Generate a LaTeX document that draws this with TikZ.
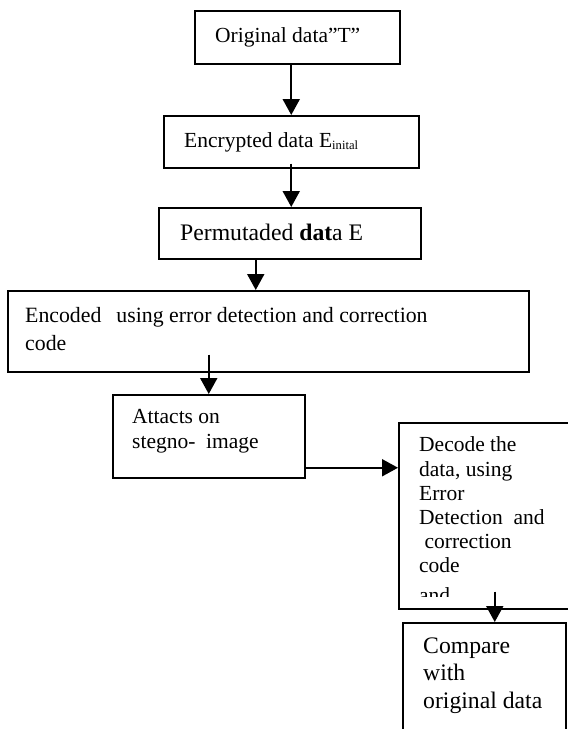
\documentclass[tikz,border=0pt]{standalone}
\usepackage{fontspec}
\setmainfont{Liberation Serif}
\usetikzlibrary{arrows.meta}

\tikzset{
  stage/.style={draw, line width=1.5pt, rectangle, inner sep=0pt, anchor=north west},
  txt/.style={inner sep=0pt, anchor=base west, align=left, font=\fontsize{21.5}{24.2}\selectfont},
  bigtxt/.style={txt, font=\fontsize{23.7}{27.5}\selectfont},
  flow/.style={-{Triangle[length=16pt,width=17pt]}, line width=2pt},
}

\begin{document}
\begin{tikzpicture}[x=1pt, y=-1pt]
  \useasboundingbox (0,0) rectangle (568,729);
  % boxes of the chain
  \node[stage, minimum width=205pt, minimum height=53pt] (orig) at (194,10) {};
  \node[stage, minimum width=255pt, minimum height=52pt] (enc) at (163,115) {};
  \node[stage, minimum width=262pt, minimum height=51pt] (perm) at (158,207) {};
  \node[stage, minimum width=521pt, minimum height=81pt] (code) at (7,290) {};
  \node[stage, minimum width=192pt, minimum height=83pt] (atk) at (112,394) {};
  \node[stage, minimum width=192pt, minimum height=186pt] (dec) at (398,422) {};
  \node[stage, minimum width=163pt, minimum height=130pt] (cmp) at (402,622) {};
  % texts (multi-line ones sit on their last baseline)
  \node[txt] (origtxt) at (215,42) {Original data”T”};
  \node[txt] (enctxt) at (184,147) {Encrypted data E\raisebox{-2pt}{\fontsize{12.6}{14}\selectfont inital}};
  \node[bigtxt] (permtxt) at (180,240) {Permutaded \textbf{dat}a E};
  \node[txt, font=\fontsize{21.8}{28}\selectfont] (codetxt) at (25,350)
    {Encoded\hspace{15pt}using error detection and correction\\code};
  \node[txt, font=\fontsize{21.5}{25}\selectfont] (atktxt) at (132,448) {Attacts on\\stegno-\ \ image};
  % last line cut off by the box
  \begin{scope}
    \clip (398,422) rectangle (590,596);
    \node[txt] (dectxt) at (419,602)
      {Decode the\\data, using\\Error\\Detection\ \ and\\\ correction\\code\\[5pt]and};
  \end{scope}
  \node[bigtxt] (cmptxt) at (423,708) {Compare\\with\\original data};
  % connectors
  \coordinate (in4) at ([xshift=-12.5pt]code.north);
  \coordinate (out4) at ([yshift=18pt]code.south);
  \coordinate (out5) at ([yshift=-31.5pt]atk.east);
  \coordinate (out6) at ([yshift=18pt]dec.south);
  \draw[flow] (orig.south -| enc.north) -- (enc.north);
  \draw[flow] ([yshift=5pt]enc.south) -- (perm.north -| enc.south);
  \draw[flow] (perm.south -| in4) -- (in4);
  \draw[flow] (out4 -| atk.north) -- (atk.north);
  \draw[flow] (out5) -- (out5 -| dec.west);
  \draw[flow] (out6) -- (out6 |- cmp.north);
\end{tikzpicture}
\end{document}
